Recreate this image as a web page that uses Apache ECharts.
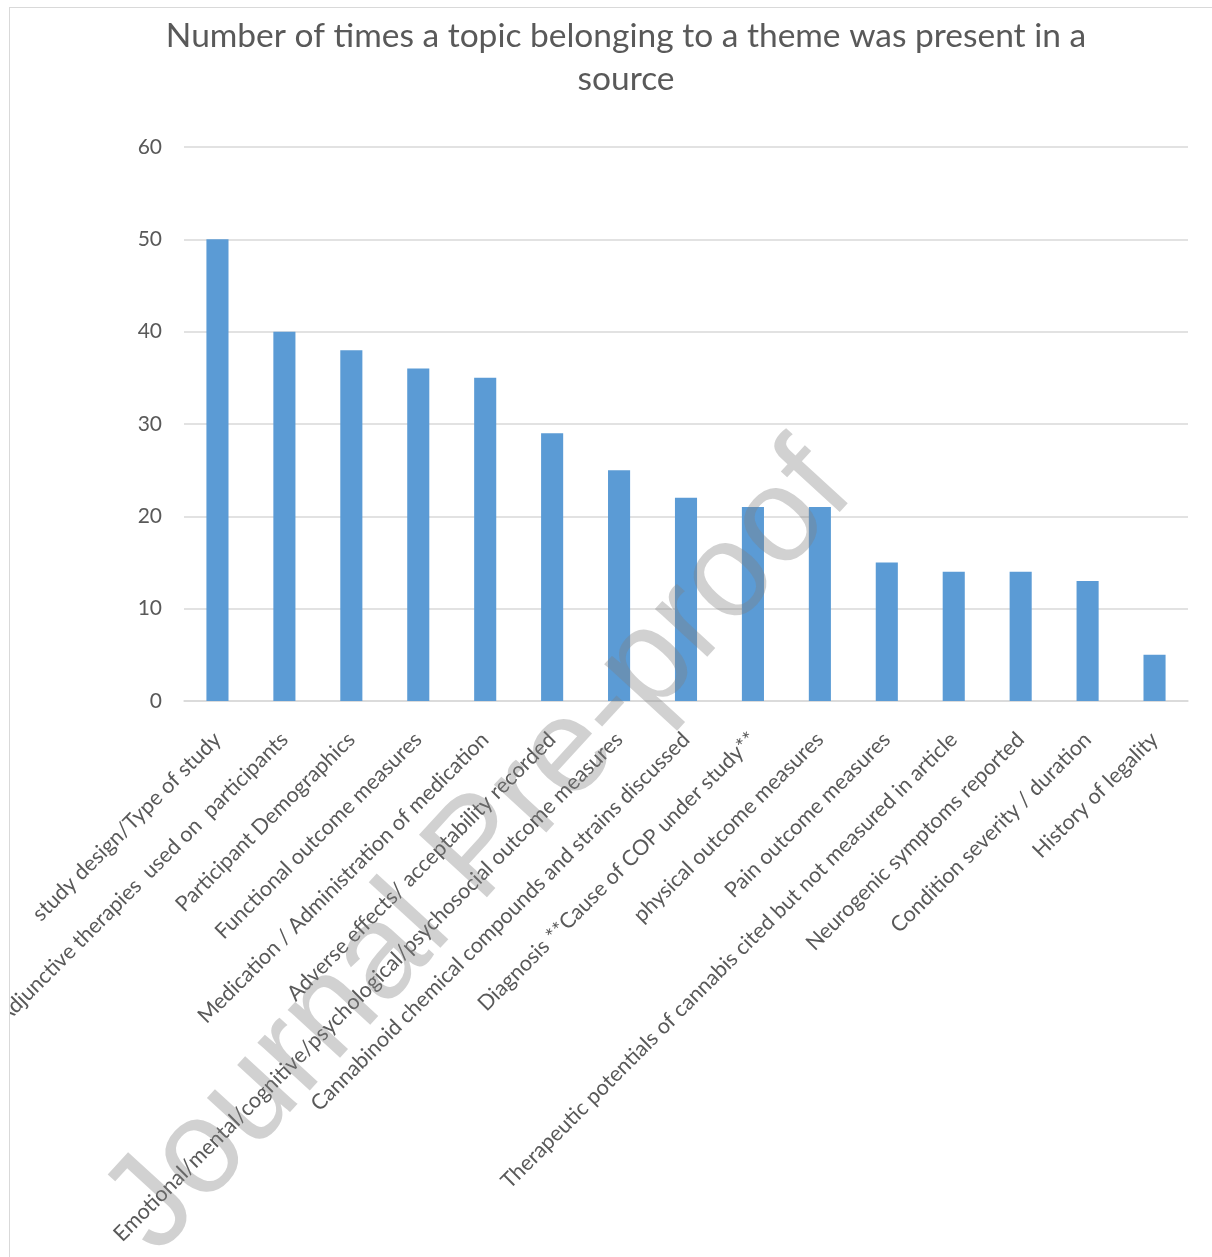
<!DOCTYPE html>
<html>
<head>
<meta charset="utf-8">
<script src="https://cdn.jsdelivr.net/npm/echarts@6/dist/echarts.min.js"></script>
<style>
  html, body { margin: 0; padding: 0; width: 1212px; height: 1257px; overflow: hidden; background: #ffffff; }
  #frame { position: absolute; left: 9px; top: 7px; width: 1203px; height: 1250px; border-left: 1.5px solid #d9d9d9; border-top: 1.5px solid #d9d9d9; box-sizing: border-box; }
  #chart { position: absolute; left: 10px; top: 8px; width: 1232px; height: 1249px; }
</style>
</head>
<body>
<div id="frame"></div>
<div id="chart"></div>
<script>
const titleText = 'Number of times a topic belonging to a theme was present in a\nsource';
const categories = [
  'study design/Type of study',
  'Adjunctive therapies  used on  participants',
  'Participant Demographics',
  'Functional outcome measures',
  'Medication / Administration of medication',
  'Adverse effects/ acceptability recorded',
  'Emotional/mental/cognitive/psychological/psychosocial outcome measures',
  'Cannabinoid chemical compounds and strains discussed',
  'Diagnosis **Cause of COP under study**',
  'physical outcome measures',
  'Pain outcome measures',
  'Therapeutic potentials of cannabis cited but not measured in article',
  'Neurogenic symptoms reported',
  'Condition severity / duration',
  'History of legality'
];
const counts = [50, 40, 38, 36, 35, 29, 25, 22, 21, 21, 15, 14, 14, 13, 5];
const yTicks = { min: 0, max: 60, interval: 10 };
const watermarkText = 'Journal Pre-proof';

const chart = echarts.init(document.getElementById('chart'), null, { renderer: 'canvas' });
chart.setOption({
  animation: false,
  backgroundColor: 'transparent',
  title: {
    text: titleText,
    left: 'center',
    top: 2,
    textStyle: { fontFamily: 'Lato', fontSize: 33.5, fontWeight: 'normal', color: '#595959', lineHeight: 43 }
  },
  grid: { left: 174, right: 54, top: 139, bottom: 556, containLabel: false, outerBoundsMode: 'none' },
  xAxis: {
    type: 'category',
    data: categories,
    axisLine: { show: true, lineStyle: { color: '#d9d9d9', width: 1.5 } },
    axisTick: { show: false },
    axisLabel: { interval: 0, rotate: 45, margin: 35, fontFamily: 'Lato', fontSize: 21.5, color: '#595959' }
  },
  yAxis: {
    type: 'value',
    min: yTicks.min, max: yTicks.max, interval: yTicks.interval,
    axisLine: { show: false },
    axisTick: { show: false },
    splitLine: { lineStyle: { color: '#d9d9d9', width: 1.5 } },
    axisLabel: { margin: 22, fontFamily: 'Lato', fontSize: 21, color: '#595959' }
  },
  series: [{
    type: 'bar',
    data: counts,
    barWidth: '33%',
    itemStyle: { color: '#5b9bd5' }
  }],
  graphic: [{
    type: 'text',
    x: 470, y: 842,
    rotation: 47.5 * Math.PI / 180,
    z: 100,
    style: {
      text: watermarkText,
      fontFamily: 'Liberation Sans, Arial, sans-serif',
      fontSize: 134,
      fill: 'rgba(128,128,128,0.36)',
      textAlign: 'center',
      textVerticalAlign: 'middle',
      align: 'center',
      verticalAlign: 'middle'
    }
  }]
});
</script>
</body>
</html>
